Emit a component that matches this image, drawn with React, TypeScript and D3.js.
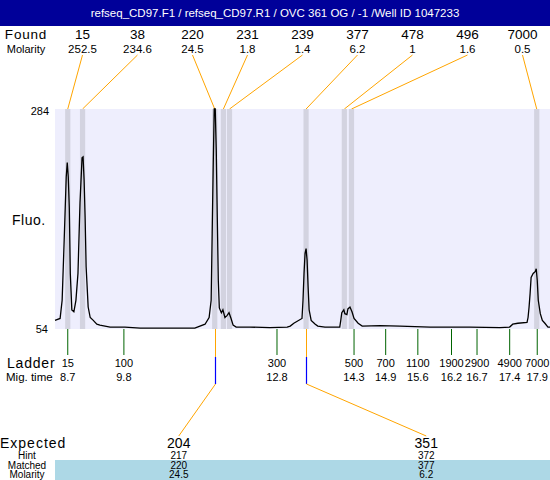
import React from "react";
import * as d3 from "d3";

const titleText = "refseq_CD97.F1 / refseq_CD97.R1 / OVC 361 OG  / -1  /Well ID 1047233";

const foundSizes = [15, 38, 220, 231, 239, 377, 478, 496, 7000];
const foundMolarity = ["252.5", "234.6", "24.5", "1.8", "1.4", "6.2", "1", "1.6", "0.5"];
const foundTimes = [8.7, 8.99, 11.58, 11.75, 11.87, 13.37, 14.12, 14.26, 17.89];

const ladderSizes = [15, 100, 300, 500, 700, 1100, 1900, 2900, 4900, 7000];
const ladderTimes = [8.7, 9.8, 12.8, 14.31, 14.93, 15.56, 16.22, 16.72, 17.36, 17.9];

const expectedSizes = [204, 351];
const hintSizes = [217, 372];
const matchedSizes = [220, 377];
const matchedMolarity = ["24.5", "6.2"];
const matchedTimes = [11.58, 13.37];

const yTicks = [54, 284];
const timeDomain = [8.45, 18.15];

const traceTime = [
  8.45, 8.55, 8.59, 8.63, 8.67, 8.69, 8.71, 8.73, 8.75, 8.78, 8.82, 8.86, 8.9, 8.94, 8.98, 9.0, 9.02, 9.04,
  9.06, 9.1, 9.14, 9.2, 9.27, 9.33, 9.53, 9.82, 10.12, 10.51, 10.9, 11.19, 11.39, 11.47, 11.51, 11.53, 11.55,
  11.57, 11.59, 11.61, 11.63, 11.65, 11.67, 11.71, 11.74, 11.78, 11.82, 11.86, 11.9, 11.94, 12.0, 12.27, 12.66,
  13.0, 13.06, 13.13, 13.29, 13.31, 13.33, 13.35, 13.37, 13.39, 13.41, 13.43, 13.47, 13.55, 13.6, 13.74, 14.03,
  14.05, 14.07, 14.11, 14.13, 14.17, 14.19, 14.23, 14.27, 14.31, 14.39, 14.47, 14.82, 15.21, 15.8, 16.58,
  17.17, 17.36, 17.42, 17.52, 17.7, 17.72, 17.74, 17.76, 17.78, 17.82, 17.86, 17.88, 17.9, 17.92, 17.96, 18.0, 18.05,
  18.11, 18.15,
];
const traceFluo = [
  63, 65, 84, 147, 213, 228, 213, 181, 112, 74, 72, 84, 112, 186, 233, 234, 210, 171,
  119, 77, 66, 63, 59, 58, 56, 56, 55, 55, 55, 55, 59, 66, 84, 154, 223,
  284, 284, 241, 171, 105, 76, 71, 74, 66, 68, 71, 65, 58, 56, 56, 55.5,
  56, 57, 60, 65, 84, 112, 133, 138, 126, 98, 74, 63, 59, 57, 56, 56,
  63, 71, 74, 70, 69, 75, 77, 72, 65, 60, 57, 57.5, 57, 56, 56,
  55.5, 56, 59, 60, 61, 66, 77, 91, 108, 112, 114, 117, 105, 84, 70, 63, 60,
  56, 56,
];

const W = 550;
const H = 480;
const plotL = 55;
const plotR = 550;
const plotT = 109;
const plotB = 329;
const FONT = "Liberation Sans, Arial, sans-serif";

export default function App() {
  const x = d3.scaleLinear().domain(timeDomain).range([plotL, plotR]);
  const y = d3.scaleLinear().domain([yTicks[0], yTicks[1]]).range([plotB, plotT]);
  const pts: [number, number][] = traceTime.map((t, i) => [t, traceFluo[i]]);
  const line = d3
    .line<[number, number]>()
    .x((d) => x(d[0]))
    .y((d) => y(d[1]));

  const foundCol = d3.scaleBand<number>().domain(d3.range(foundSizes.length)).range([plotL, plotR]);
  const expCol = d3.scaleBand<number>().domain(d3.range(expectedSizes.length)).range([plotL, plotR]);
  const bandHalf = 2.6;

  return (
    <svg
      width={W}
      height={H}
      style={{ position: "absolute", left: 0, top: 0, fontFamily: FONT }}
    >
      <rect x={0} y={0} width={W} height={H} fill="#ffffff" />
      {/* title */}
      <rect x={0} y={0} width={W} height={26} fill="#000099" />
      <text x={W / 2} y={13} fill="#ffffff" fontSize={11.5} textAnchor="middle" dominantBaseline="central">
        {titleText}
      </text>

      {/* Found row */}
      <text x={26} y={34} fontSize={13.5} textAnchor="middle" dominantBaseline="central" letterSpacing={0.8}>
        Found
      </text>
      <text x={26} y={48.5} fontSize={11} textAnchor="middle" dominantBaseline="central">
        Molarity
      </text>
      {foundSizes.map((s, i) => {
        const cx = (foundCol(i) as number) + foundCol.bandwidth() / 2;
        return (
          <g key={"f" + i}>
            <text x={cx} y={34} fontSize={13.5} textAnchor="middle" dominantBaseline="central">
              {s}
            </text>
            <text x={cx} y={48.5} fontSize={11.5} textAnchor="middle" dominantBaseline="central">
              {foundMolarity[i]}
            </text>
            <line x1={cx} y1={55} x2={x(foundTimes[i])} y2={plotT} stroke="#ffa500" strokeWidth={1} />
          </g>
        );
      })}

      {/* plot */}
      <rect x={plotL} y={plotT} width={plotR - plotL} height={plotB - plotT} fill="#eeeefd" />
      {foundTimes.map((t, i) => (
        <rect
          key={"b" + i}
          x={x(t) - bandHalf}
          y={plotT}
          width={bandHalf * 2}
          height={plotB - plotT}
          fill="#d3d3e0"
        />
      ))}
      <path d={line(pts) || ""} fill="none" stroke="#000000" strokeWidth={1.3} strokeLinejoin="miter" />

      {/* y axis labels */}
      <text x={49} y={111} fontSize={11} textAnchor="end" dominantBaseline="central">
        {yTicks[1]}
      </text>
      <text x={48} y={329} fontSize={11} textAnchor="end" dominantBaseline="central">
        {yTicks[0]}
      </text>
      <text x={12} y={220} fontSize={14} dominantBaseline="central" letterSpacing={0.5}>
        Fluo.
      </text>

      {/* ladder */}
      <text x={7} y={363} fontSize={14} dominantBaseline="central" letterSpacing={0.8}>
        Ladder
      </text>
      <text x={6} y={377} fontSize={11.5} dominantBaseline="central">
        Mig. time
      </text>
      {ladderSizes.map((s, i) => {
        const lx = x(ladderTimes[i]);
        return (
          <g key={"l" + i}>
            <line x1={lx} y1={plotB} x2={lx} y2={355} stroke="#006400" strokeWidth={1} />
            <text x={lx} y={363} fontSize={11} textAnchor="middle" dominantBaseline="central">
              {s}
            </text>
            <text x={lx} y={377} fontSize={11} textAnchor="middle" dominantBaseline="central">
              {ladderTimes[i].toFixed(1)}
            </text>
          </g>
        );
      })}

      {/* expected */}
      <rect x={plotL} y={460} width={plotR - plotL} height={20} fill="#add8e6" />
      <text x={0} y={443} fontSize={14} dominantBaseline="central" letterSpacing={1}>
        Expected
      </text>
      <text x={27} y={455} fontSize={10} textAnchor="middle" dominantBaseline="central">
        Hint
      </text>
      <text x={27} y={465} fontSize={10} textAnchor="middle" dominantBaseline="central">
        Matched
      </text>
      <text x={27} y={474.5} fontSize={10} textAnchor="middle" dominantBaseline="central">
        Molarity
      </text>
      {expectedSizes.map((s, i) => {
        const cx = (expCol(i) as number) + expCol.bandwidth() / 2;
        const px = Math.round(x(matchedTimes[i])) + 0.5;
        return (
          <g key={"e" + i}>
            <line x1={px} y1={plotB} x2={px} y2={357} stroke="#ffa500" strokeWidth={1} />
            <line x1={px} y1={357} x2={px} y2={384} stroke="#0000ff" strokeWidth={1.2} />
            <line x1={px} y1={384} x2={cx} y2={436} stroke="#ffa500" strokeWidth={1} />
            <text x={cx} y={443} fontSize={14} textAnchor="middle" dominantBaseline="central">
              {s}
            </text>
            <text x={cx} y={455} fontSize={10} textAnchor="middle" dominantBaseline="central">
              {hintSizes[i]}
            </text>
            <text x={cx} y={465} fontSize={10} textAnchor="middle" dominantBaseline="central">
              {matchedSizes[i]}
            </text>
            <text x={cx} y={474.5} fontSize={10} textAnchor="middle" dominantBaseline="central">
              {matchedMolarity[i]}
            </text>
          </g>
        );
      })}
    </svg>
  );
}
